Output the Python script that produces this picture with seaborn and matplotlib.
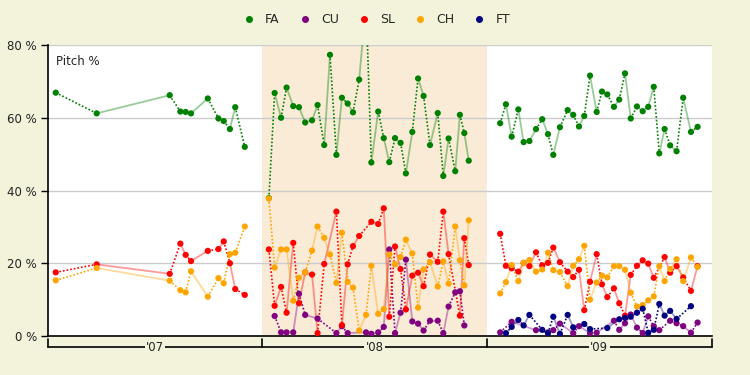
import numpy as np
import pandas as pd
import matplotlib
matplotlib.use("Agg")
import matplotlib.pyplot as plt
import matplotlib.transforms as mtransforms
from matplotlib.lines import Line2D
import seaborn as sns

nan = np.nan

# ── Data ────────────────────────────────────────────────────────────────────
# x = position on a compressed season timeline (0-300), each season ~100 units
SEASONS      = ["'07", "'08", "'09"]
SEASON_EDGES = [0, 96.7, 198.3, 300]
PITCHES      = ["FA", "CU", "SL", "CH", "FT"]
PALETTE      = {"FA": "#008000", "CU": "#800080", "SL": "#ff0000",
                "CH": "#ffa500", "FT": "#000080"}

X_07  = [3.5, 22.0, 55.0, 59.8, 62.2, 64.6, 72.2, 77.0, 79.4, 82.2, 84.6, 88.9]
FA_07 = [66.9, 61.2, 66.2, 61.7, 61.6, 61.2, 65.3, 59.8, 59.1, 56.9, 62.9, 52.0]
SL_07 = [17.5, 19.7, 17.1, 25.4, 22.3, 20.6, 23.4, 23.9, 26.0, 20.0, 12.9, 11.3]
CH_07 = [15.3, 18.7, 15.2, 12.6, 12.0, 17.8, 10.8, 15.9, 14.5, 22.5, 22.9, 30.1]

X_08  = [99.8, 102.4, 105.3, 107.8, 110.8, 113.4, 116.2, 119.3, 121.8, 124.8,
         127.4, 130.3, 132.8, 135.4, 137.8, 140.6, 143.7, 146.1, 149.2, 151.7,
         154.2, 156.8, 159.3, 161.7, 164.6, 167.2, 169.7, 172.6, 176.1, 178.6,
         181.0, 184.0, 186.1, 188.1, 190.1]
FA_08 = [37.9, 66.8, 60.0, 68.3, 63.2, 62.9, 58.7, 59.3, 63.5, 52.5,
         77.3, 49.8, 65.5, 63.9, 61.5, 70.5, 92.0, 47.7, 61.7, 54.4,
         47.8, 54.4, 53.1, 44.7, 56.1, 70.8, 66.0, 52.5, 61.3, 44.0,
         54.3, 45.3, 60.8, 55.8, 48.2]
CU_08 = [nan, 5.5, 1.0, 1.0, 1.0, 11.6, 5.8, nan, 4.8, nan,
         nan, 0.8, 2.7, 0.8, nan, nan, 1.0, 0.6, 1.0, 2.5,
         23.8, 0.8, 6.4, 21.0, 4.0, 3.4, 1.5, 4.2, 4.2, 0.8,
         8.1, 12.0, 12.3, 2.9, nan]
SL_08 = [23.8, 8.3, 13.5, 6.4, 25.6, 9.0, 17.5, 16.9, 0.8, 19.8,
         nan, 34.2, 3.0, 19.7, 24.7, 27.5, nan, 31.4, 30.8, 35.1,
         5.3, 24.6, 18.4, 7.3, 16.6, 17.4, 13.7, 22.4, 20.4, 34.2,
         22.5, nan, 5.6, 26.9, 19.5]
CH_08 = [37.8, 18.8, 23.8, 23.8, 9.7, 16.0, 17.5, 23.5, 30.1, 27.0,
         22.4, 14.6, 28.4, 14.9, 13.3, 1.5, 5.8, 19.3, 6.1, 7.4,
         22.4, 19.7, 21.7, 26.5, 22.7, 7.8, 18.3, 20.3, 13.6, 20.5,
         14.4, 30.1, 20.8, 13.9, 31.8]

X_09  = [204.3, 206.9, 209.5, 212.5, 214.9, 217.5, 220.5, 223.3, 225.9, 228.3,
         231.3, 234.8, 237.3, 239.9, 242.3, 244.9, 247.9, 250.3, 252.7, 255.7,
         258.1, 260.7, 263.3, 266.1, 268.7, 271.2, 273.7, 276.2, 278.6, 281.1,
         284.0, 287.0, 290.5, 293.5]
FA_09 = [58.5, 63.7, 54.8, 62.3, 53.3, 53.6, 56.9, 59.6, 55.5, 49.8,
         57.4, 62.1, 60.8, 57.6, 60.5, 71.6, 61.6, 67.2, 66.4, 63.0,
         65.0, 72.2, 59.8, 63.1, 61.8, 63.0, 68.5, 50.2, 56.9, 52.4,
         50.8, 65.5, 56.1, 57.5]
CU_09 = [1.0, nan, 3.9, nan, nan, nan, 1.6, nan, 1.0, 1.6,
         3.4, nan, 0.8, 2.7, nan, 0.8, 0.9, nan, nan, 4.2,
         1.7, 3.5, 5.9, 2.3, 0.8, 5.4, 2.7, 1.6, nan, 4.2,
         3.5, 2.7, 0.9, 3.7]
SL_09 = [28.1, 19.3, 18.6, 17.7, 20.1, 19.2, 23.0, 19.4, 20.1, 24.3,
         20.3, 17.7, 16.2, 18.2, 7.1, 14.9, 22.5, 14.2, 10.7, 13.1,
         9.0, 5.6, 16.8, 19.3, 20.8, 19.9, 16.0, nan, 21.7, 17.4,
         19.2, 16.1, 12.4, 19.2]
CH_09 = [11.7, 14.8, 19.5, 15.1, 20.1, 20.9, 17.7, 18.3, 22.9, 18.1,
         17.6, 13.7, 19.3, 21.1, 24.8, 10.0, 14.7, 16.6, 16.1, 19.2,
         19.2, 18.2, 11.9, 8.1, 8.5, 9.8, 10.9, 19.2, 15.1, 18.4,
         21.1, 15.1, 21.6, 19.0]
FT_09 = [nan, 0.8, 2.5, 4.4, 2.9, 5.8, nan, 1.7, 0.8, 5.3,
         0.6, 5.8, 2.4, nan, 3.3, 1.9, nan, nan, 2.2, nan,
         4.6, 5.0, 5.3, 6.4, 7.5, 0.9, 1.7, 8.8, 5.6, 6.9,
         4.7, nan, 8.2, nan]

SEASON_DATA = {
    "'07": (X_07, {"FA": FA_07, "SL": SL_07, "CH": CH_07}),
    "'08": (X_08, {"FA": FA_08, "CU": CU_08, "SL": SL_08, "CH": CH_08}),
    "'09": (X_09, {"FA": FA_09, "CU": CU_09, "SL": SL_09, "CH": CH_09,
                   "FT": FT_09}),
}

rows = []
for season, (xs, series) in SEASON_DATA.items():
    for pitch, vals in series.items():
        for x, v in zip(xs, vals):
            if not np.isnan(v):
                rows.append({"season": season, "pitch": pitch, "x": x, "pct": v})
df = pd.DataFrame(rows)

# ── Style ───────────────────────────────────────────────────────────────────
BG     = "#f3f3dc"
SHADE  = "#faebd7"
sns.set_theme(style="white")
plt.rcParams["font.family"] = ["DejaVu Sans"]

fig = plt.figure(figsize=(7.5, 3.75), dpi=100, facecolor=BG)
ax = fig.add_axes([0.064, 0.104, 0.8853, 0.776])
ax.set_facecolor("white")

# shaded '08 season
ax.axvspan(SEASON_EDGES[1], SEASON_EDGES[2], color=SHADE, lw=0, zorder=0)
for yv in [20, 40, 60, 80]:
    ax.axhline(yv, color="#cccccc", lw=1, zorder=0.5)

# lines: alternate dotted dark / light solid segments, one line per season
for pitch in PITCHES:
    for season in SEASONS:
        grp = df[(df.pitch == pitch) & (df.season == season)].sort_values("x")
        xs, ys = grp["x"].values, grp["pct"].values
        for i in range(len(xs) - 1):
            if i % 2 == 0:
                ax.plot(xs[i:i+2], ys[i:i+2], color=PALETTE[pitch], lw=1.2,
                        ls=(0, (1, 1.2)), zorder=2)
            else:
                ax.plot(xs[i:i+2], ys[i:i+2], color=PALETTE[pitch], lw=1.3,
                        alpha=0.4, zorder=2)

sns.scatterplot(data=df, x="x", y="pct", hue="pitch", palette=PALETTE,
                hue_order=PITCHES, s=20, edgecolor="none", legend=False,
                ax=ax, zorder=3)

ax.set_xlim(SEASON_EDGES[0], SEASON_EDGES[-1])
ax.set_ylim(0, 80)
ax.set_yticks([0, 20, 40, 60, 80])
ax.set_yticklabels([f"{v} %" for v in [0, 20, 40, 60, 80]],
                   fontsize=8.5, color="#222222")
ax.tick_params(axis="y", length=5, width=1, color="black", pad=3, left=True)
ax.set_xticks([])
ax.set_xlabel("")
ax.set_ylabel("")
for side in ["top", "right"]:
    ax.spines[side].set_visible(False)
for side in ["left", "bottom"]:
    ax.spines[side].set_color("black")
    ax.spines[side].set_linewidth(1.2)

ax.text(0.012, 0.965, "Pitch %", transform=ax.transAxes, fontsize=8.5,
        color="#222222", va="top", ha="left")

# season bracket under the axis
trans = mtransforms.blended_transform_factory(ax.transData, ax.transAxes)
ax.plot([SEASON_EDGES[0], SEASON_EDGES[-1]], [-0.038, -0.038], color="black",
        lw=1.2, transform=trans, clip_on=False)
for e in SEASON_EDGES:
    ax.plot([e, e], [-0.038, -0.012], color="black", lw=1.2,
            transform=trans, clip_on=False)
for i, season in enumerate(SEASONS):
    mid = (SEASON_EDGES[i] + SEASON_EDGES[i + 1]) / 2
    ax.text(mid, -0.038, season, transform=trans, ha="center", va="center",
            fontsize=8.5, color="#222222",
            bbox=dict(facecolor=BG, edgecolor="none", pad=1))

# legend on top
handles = [Line2D([], [], ls="none", marker="o", markersize=4,
                  color=PALETTE[p]) for p in PITCHES]
fig.legend(handles, PITCHES, loc="center", bbox_to_anchor=(0.502, 0.947),
           ncol=5, frameon=False, fontsize=9, handlelength=1,
           handletextpad=0.8, columnspacing=1.5)

fig.savefig("out.png", dpi=100, facecolor=BG)
